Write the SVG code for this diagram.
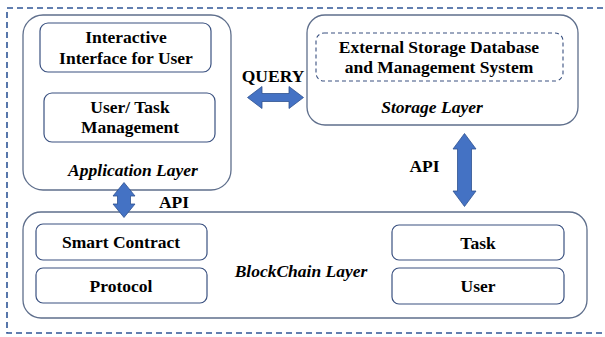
<svg xmlns="http://www.w3.org/2000/svg" width="605" height="337" viewBox="0 0 605 337">
  <style>
    .frame { fill: none; stroke: #2F5597; stroke-width: 1.6; stroke-dasharray: 6 4; }
    .layer { fill: #ffffff; stroke: #5F6F8C; stroke-width: 1.3; }
    .box { fill: #ffffff; stroke: #3A5180; stroke-width: 1.2; }
    .dbox { fill: none; stroke: #3A5180; stroke-width: 1.1; stroke-dasharray: 4 3; }
    .label { font-family: "Liberation Serif", "Times New Roman", serif; font-weight: bold; font-size: 17.5px; fill: #000; text-anchor: middle; }
    .title { font-family: "Liberation Serif", "Times New Roman", serif; font-weight: bold; font-style: italic; font-size: 17.5px; fill: #000; text-anchor: middle; }
    .arrow { fill: #4472C4; stroke: #2F528F; stroke-width: 0.8; }
  </style>

  <!-- outer system boundary -->
  <rect class="frame" x="7" y="8" width="610" height="325"/>

  <g id="application-layer">
    <rect class="layer" x="23" y="15" width="208" height="175" rx="20"/>
    <text class="title" x="133" y="176">Application Layer</text>
  </g>
  <g id="interactive-interface">
    <rect class="box" x="40" y="23" width="171" height="49" rx="8"/>
    <text class="label" x="126" y="43">Interactive</text>
    <text class="label" x="126" y="64">Interface for User</text>
  </g>
  <g id="user-task-management">
    <rect class="box" x="44" y="93" width="171" height="49" rx="8"/>
    <text class="label" x="130" y="113">User/ Task</text>
    <text class="label" x="130" y="133">Management</text>
  </g>

  <g id="storage-layer">
    <rect class="layer" x="307" y="15" width="271" height="110" rx="18"/>
    <text class="title" x="432" y="113">Storage Layer</text>
  </g>
  <g id="external-storage">
    <rect class="dbox" x="316" y="33" width="247" height="48" rx="8"/>
    <text class="label" x="439" y="53">External Storage Database</text>
    <text class="label" x="439" y="73">and Management System</text>
  </g>

  <g id="blockchain-layer">
    <rect class="layer" x="23" y="212" width="564" height="106" rx="18"/>
    <text class="title" x="301" y="277">BlockChain Layer</text>
  </g>
  <g id="smart-contract">
    <rect class="box" x="36" y="224" width="171" height="36" rx="7"/>
    <text class="label" x="121" y="248">Smart Contract</text>
  </g>
  <g id="protocol">
    <rect class="box" x="36" y="268" width="171" height="35" rx="7"/>
    <text class="label" x="121" y="292">Protocol</text>
  </g>
  <g id="task">
    <rect class="box" x="392" y="225" width="172" height="35" rx="7"/>
    <text class="label" x="478" y="249">Task</text>
  </g>
  <g id="user">
    <rect class="box" x="392" y="268" width="172" height="36" rx="7"/>
    <text class="label" x="478" y="292">User</text>
  </g>

  <g id="connectors">
    <!-- QUERY: application <-> storage -->
    <polygon class="arrow" points="247.5,97.5 262,86.5 262,93.5 289,93.5 289,86.5 303.5,97.5 289,108.5 289,101.5 262,101.5 262,108.5"/>
    <text class="label" x="273" y="82">QUERY</text>
    <!-- API: application <-> blockchain -->
    <polygon class="arrow" points="124,182.5 135,196 130.5,196 130.5,204 135,204 124,217.5 113,204 117.5,204 117.5,196 113,196"/>
    <text class="label" x="174" y="208">API</text>
    <!-- API: storage <-> blockchain -->
    <polygon class="arrow" points="464.5,133.5 476,149 471.5,149 471.5,191 476,191 464.5,206.5 453,191 457.5,191 457.5,149 453,149"/>
    <text class="label" x="424.5" y="172">API</text>
  </g>
</svg>
